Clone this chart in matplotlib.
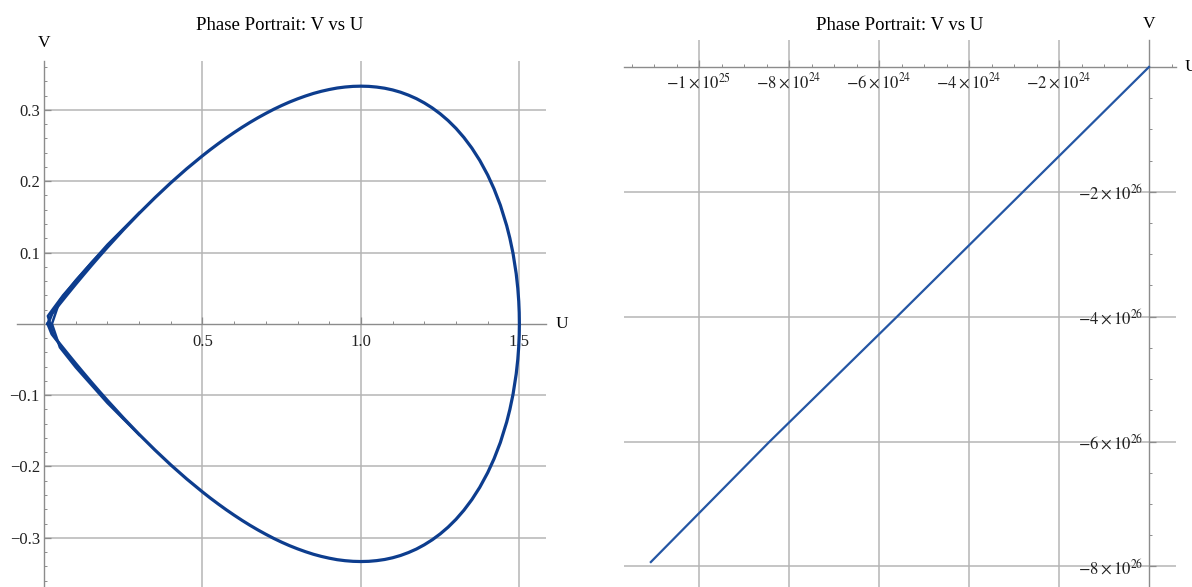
import numpy as np
import matplotlib.pyplot as plt
from matplotlib.ticker import MultipleLocator

plt.rcParams["font.family"] = ["Liberation Serif", "DejaVu Serif"]
plt.rcParams["mathtext.fontset"] = "stix"

# left panel: closed orbit, upper half (lower half is its mirror)
u_top = [0.012, 0.025, 0.05, 0.075, 0.1, 0.125, 0.15, 0.175, 0.2, 0.25, 0.3,
         0.35, 0.4, 0.45, 0.5, 0.525, 0.55, 0.575, 0.6, 0.625, 0.65, 0.675,
         0.7, 0.725, 0.75, 0.775, 0.8, 0.825, 0.85, 0.875, 0.9, 0.925, 0.95,
         0.975, 1.0, 1.025, 1.05, 1.075, 1.1, 1.125, 1.15, 1.175, 1.2, 1.225,
         1.25, 1.275, 1.3, 1.325, 1.35, 1.375, 1.4, 1.42, 1.44, 1.46, 1.47,
         1.48, 1.49, 1.495, 1.498, 1.4995, 1.5]
v_top = [0.0, 0.0143, 0.0284, 0.0422, 0.0558, 0.0691, 0.0822, 0.0950, 0.1075,
         0.1318, 0.1549, 0.1769, 0.1978, 0.2174, 0.2357, 0.2444, 0.2527,
         0.2607, 0.2683, 0.2756, 0.2825, 0.2890, 0.2951, 0.3009, 0.3062,
         0.3111, 0.3155, 0.3195, 0.3231, 0.3261, 0.3286, 0.3307, 0.3321,
         0.3330, 0.3333, 0.3330, 0.3320, 0.3304, 0.3280, 0.3248, 0.3207,
         0.3158, 0.3098, 0.3028, 0.2946, 0.2851, 0.2741, 0.2613, 0.2465,
         0.2292, 0.2087, 0.1893, 0.1663, 0.1376, 0.1200, 0.0987, 0.0702,
         0.0498, 0.0316, 0.0158, 0.0]

# extra strands bunched up near the origin
cusp_u1 = [0.3, 0.2, 0.15, 0.1, 0.05, 0.025, 0.05, 0.1, 0.15, 0.2, 0.3]
cusp_v1 = [0.1555, 0.111, 0.086, 0.061, 0.033, 0.0, -0.033, -0.061, -0.086,
           -0.111, -0.1555]
cusp_u2 = [0.25, 0.15, 0.06, 0.03, 0.012, 0.03, 0.06, 0.15, 0.25]
cusp_v2 = [0.1325, 0.086, 0.040, 0.022, 0.011, -0.016, -0.036, -0.084, -0.1325]

# right panel: run-away trajectory
u_run = [0.0, -2.8e24, -5.6e24, -8.43e24, -1.107e25]
v_run = [0.0, -2e26, -4e26, -6e26, -7.93e26]

W, H = 1192, 587
fig = plt.figure(figsize=(W / 100, H / 100), dpi=100)

axis_col = "#8c8c8c"
grid_col = "#b5b5b5"


def style(ax):
    for s in ["top", "right"]:
        ax.spines[s].set_visible(False)
    ax.spines["left"].set_position(("data", 0))
    ax.spines["bottom"].set_position(("data", 0))
    for s in ["left", "bottom"]:
        ax.spines[s].set_color(axis_col)
        ax.spines[s].set_linewidth(1.0)
    ax.tick_params(which="both", direction="in", color=axis_col,
                   labelcolor="#222222", labelsize=12)
    ax.tick_params(which="major", length=5, width=0.9)
    ax.tick_params(which="minor", length=2.5, width=0.7)


# ---- left: phase portrait ----
ax1 = fig.add_axes([17.1 / W, 0, 528.9 / W, 526.3 / H])
style(ax1)
ax1.set_xlim(-0.085, 1.584)
ax1.set_ylim(-0.369, 0.369)

ax1.vlines([0.5, 1.0, 1.5], -0.369, 0.369, color=grid_col, lw=1.1, zorder=0)
ax1.hlines([-0.3, -0.2, -0.1, 0.1, 0.2, 0.3], 0, 1.584, color=grid_col, lw=1.1, zorder=0)

u_loop = np.array(u_top + u_top[::-1])
v_loop = np.array(v_top + [-v for v in v_top[::-1]])
blue = "#0d3d8e"
ax1.plot(u_loop, v_loop, color=blue, lw=2.3, zorder=3)
ax1.plot(cusp_u1, cusp_v1, color=blue, lw=1.8, zorder=3)
ax1.plot(cusp_u2, cusp_v2, color=blue, lw=1.8, zorder=3)

ax1.set_xticks([0.5, 1.0, 1.5], ["0.5", "1.0", "1.5"])
ax1.set_yticks([-0.3, -0.2, -0.1, 0.1, 0.2, 0.3],
               ["\u22120.3", "\u22120.2", "\u22120.1", "0.1", "0.2", "0.3"])
ax1.xaxis.set_minor_locator(MultipleLocator(0.1))
ax1.yaxis.set_minor_locator(MultipleLocator(0.02))
ax1.tick_params(axis="x", pad=7)
ax1.tick_params(axis="y", pad=3)

ax1.text(1.03, 0, "U", transform=ax1.get_yaxis_transform(), ha="center",
         va="center", fontsize=12.5)
ax1.text(0, 1.033, "V", transform=ax1.get_xaxis_transform(), ha="center",
         va="center", fontsize=12.5)

# ---- right: phase portrait (diverging run) ----
ax2 = fig.add_axes([624.3 / W, 0, 551.7 / W, 547 / H])
style(ax2)
ax2.set_xlim(-1.166e25, 0.06e25)
ax2.set_ylim(-8.33e26, 0.432e26)
ax2.set_axisbelow(True)
ax2.grid(True, which="major", color=grid_col, lw=1.1)

ax2.plot(u_run, v_run, color="#2456a4", lw=1.6, zorder=3)

xt = [-1e25, -8e24, -6e24, -4e24, -2e24]
xl = [r"$-1\times10^{25}$", r"$-8\times10^{24}$", r"$-6\times10^{24}$",
      r"$-4\times10^{24}$", r"$-2\times10^{24}$"]
yt = [-8e26, -6e26, -4e26, -2e26]
yl = [r"$-8\times10^{26}$", r"$-6\times10^{26}$", r"$-4\times10^{26}$",
      r"$-2\times10^{26}$"]
ax2.set_xticks(xt, xl)
ax2.set_yticks(yt, yl)
ax2.xaxis.set_minor_locator(MultipleLocator(5e23))
ax2.yaxis.set_minor_locator(MultipleLocator(5e25))
ax2.tick_params(axis="x", pad=4)
ax2.tick_params(axis="y", pad=4)

ax2.text(1.0163, 0, "U", transform=ax2.get_yaxis_transform(), ha="left",
         va="center", fontsize=12.5)
ax2.text(0, 1.03, "V", transform=ax2.get_xaxis_transform(), ha="center",
         va="center", fontsize=12.5)

fig.text(280 / W, 1 - 25 / H, "Phase Portrait: V vs U", ha="center",
         va="center", fontsize=13.5)
fig.text(900 / W, 1 - 25 / H, "Phase Portrait: V vs U", ha="center",
         va="center", fontsize=13.5)

fig.savefig("out.png", dpi=100)
